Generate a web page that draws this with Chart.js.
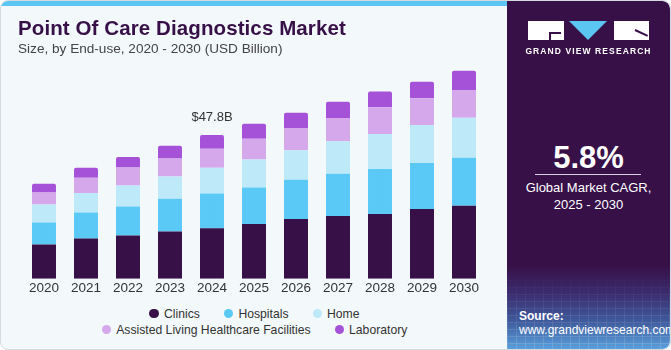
<!DOCTYPE html>
<html>
<head>
<meta charset="utf-8">
<script src="https://cdn.jsdelivr.net/npm/chart.js@4/dist/chart.umd.min.js"></script>
<style>
  html,body{margin:0;padding:0;background:#fff;}
  body{width:671px;height:350px;overflow:hidden;font-family:"Liberation Sans",Arial,sans-serif;}
  #card{position:absolute;left:0;top:0;width:669px;height:348px;border:1px solid #d3dbe1;border-radius:8px;background:#f3f8fb;overflow:hidden;}
  #stripe{position:absolute;left:0;top:0;width:510px;height:5px;background:#5cc6f2;}
  #title{position:absolute;left:17px;top:15px;font-size:20.5px;font-weight:900;color:#371048;white-space:nowrap;letter-spacing:0.1px;}
  #subtitle{position:absolute;left:17px;top:40px;font-size:13.6px;color:#444;white-space:nowrap;}
  #wrap{position:absolute;left:0;top:0;width:506px;height:300px;}
  #legend{position:absolute;left:93px;top:305px;width:320px;display:flex;flex-wrap:wrap;justify-content:center;column-gap:23px;row-gap:1px;font-size:12.2px;color:#333;}
  .li{display:flex;align-items:center;height:15px;white-space:nowrap;}
  .dot{width:9.5px;height:9.5px;border-radius:50%;margin-right:5px;margin-left:1px;}
  #panel{position:absolute;left:506px;top:0;width:163px;height:348px;background:linear-gradient(to bottom,#371048 0%,#371048 76%,#3b2c6e 84%,#3f5a9c 92%,#5a9fdc 100%);border-top-right-radius:8px;border-bottom-right-radius:8px;overflow:hidden;}
  #grid{position:absolute;left:0;top:270px;width:163px;height:80px;opacity:0.25;background-image:repeating-linear-gradient(90deg,rgba(255,255,255,0.6) 0 1px,transparent 1px 9px),repeating-linear-gradient(0deg,rgba(255,255,255,0.6) 0 1px,transparent 1px 7px);-webkit-mask-image:linear-gradient(to bottom,transparent,#000);}
  .w{position:absolute;color:#fff;text-align:center;white-space:nowrap;}
</style>
</head>
<body>
<div id="card">
  <div id="stripe"></div>
  <div id="wrap"><canvas id="c" width="506" height="300"></canvas></div>
  <div id="title">Point Of Care Diagnostics Market</div>
  <div id="subtitle">Size, by End-use, 2020 - 2030 (USD Billion)</div>
  <div id="legend"></div>
  <div id="panel">
    <div id="grid"></div>
    <div style="position:absolute;left:21px;top:20px;width:36px;height:19px;background:#fff;"></div>
    <div style="position:absolute;left:42px;top:31px;width:12px;height:2px;background:#371048;"></div>
    <div style="position:absolute;left:42px;top:31px;width:2px;height:8px;background:#371048;"></div>
    <div style="position:absolute;left:62px;top:20px;width:0;height:0;border-left:19px solid transparent;border-right:19px solid transparent;border-top:19px solid #5cc6f2;"></div>
    <div style="position:absolute;left:107px;top:20px;width:35px;height:19px;background:#fff;"></div>
    <div style="position:absolute;left:128px;top:28px;width:14px;height:2px;background:#371048;transform:rotate(25deg);transform-origin:left;"></div>
    <div class="w" style="left:0;width:163px;top:45px;font-size:8.5px;font-weight:bold;letter-spacing:1.1px;">GRAND VIEW RESEARCH</div>
    <div class="w" style="left:0;width:163px;top:139px;font-size:31px;font-weight:bold;">5.8%</div>
    <div style="position:absolute;left:28px;top:173px;width:106px;height:1px;background:#d9cfe3;"></div>
    <div class="w" style="left:0;width:163px;top:178px;font-size:13px;line-height:17px;">Global Market CAGR,<br>2025 - 2030</div>
    <div class="w" style="left:12px;top:308px;font-size:12px;font-weight:bold;text-align:left;">Source:</div>
    <div class="w" style="left:12px;top:322px;font-size:12px;text-align:left;">www.grandviewresearch.com</div>
  </div>
</div>
<script>
const years = ["2020","2021","2022","2023","2024","2025","2026","2027","2028","2029","2030"];
const seriesNames = ["Clinics","Hospitals","Home","Assisted Living Healthcare Facilities","Laboratory"];
const clinics   = [11.4,13.4,14.4,15.7,16.8,18.2,19.9,20.9,21.5,23.2,24.3];
const hospitals = [7.3,8.6,9.6,10.9,11.5,12.1,13.0,14.0,15.0,15.3,15.9];
const home      = [6.0,6.5,7.0,7.4,8.6,9.3,9.8,10.8,11.6,12.6,13.3];
const assisted  = [4.0,5.1,6.0,6.0,6.3,6.9,7.4,7.7,8.9,8.9,9.2];
const laboratory= [2.9,3.3,3.5,4.2,4.6,5.0,5.1,5.4,5.2,5.5,6.4];
const annotationIndex = 4;
const annotationText = "$47.8B";

const colors = ["#371048","#5bc9f6","#bde9f9","#d5a8ec","#a552d8"];
const values = [clinics,hospitals,home,assisted,laboratory];

const datasets = seriesNames.map((n,i)=>({
  label:n,
  data:values[i],
  backgroundColor:colors[i],
  borderWidth:0,
  borderRadius: i===4 ? {topLeft:2,topRight:2} : 0,
  borderSkipped:false,
  barPercentage:0.571,
  categoryPercentage:1.0
}));

const annot = {
  id:'annot',
  afterDatasetsDraw(chart){
    const meta = chart.getDatasetMeta(chart.data.datasets.length-1);
    const el = meta.data[annotationIndex];
    const ctx = chart.ctx;
    ctx.save();
    ctx.font = '13px "Liberation Sans", Arial, sans-serif';
    ctx.fillStyle = '#333';
    ctx.textAlign = 'center';
    ctx.textBaseline = 'bottom';
    ctx.fillText(annotationText, el.x, el.y - 11);
    ctx.restore();
  }
};

const chart = new Chart(document.getElementById('c'), {
  type:'bar',
  data:{labels:years, datasets},
  options:{
    responsive:false,
    animation:false,
    layout:{padding:{left:22,right:22,top:37,bottom:4}},
    plugins:{legend:{display:false},tooltip:{enabled:false}},
    scales:{
      x:{stacked:true,grid:{display:false,drawTicks:false,tickLength:0},border:{display:false},
         ticks:{color:'#333',font:{family:'"Liberation Sans", Arial, sans-serif',size:13.5},padding:1}},
      y:{stacked:true,display:false,min:0,max:80}
    }
  },
  plugins:[annot]
});

const lg = document.getElementById('legend');
chart.data.datasets.forEach(ds=>{
  const d = document.createElement('div'); d.className='li';
  const dot = document.createElement('span'); dot.className='dot'; dot.style.background=ds.backgroundColor;
  d.appendChild(dot); d.appendChild(document.createTextNode(ds.label));
  lg.appendChild(d);
});
</script>
</body>
</html>
